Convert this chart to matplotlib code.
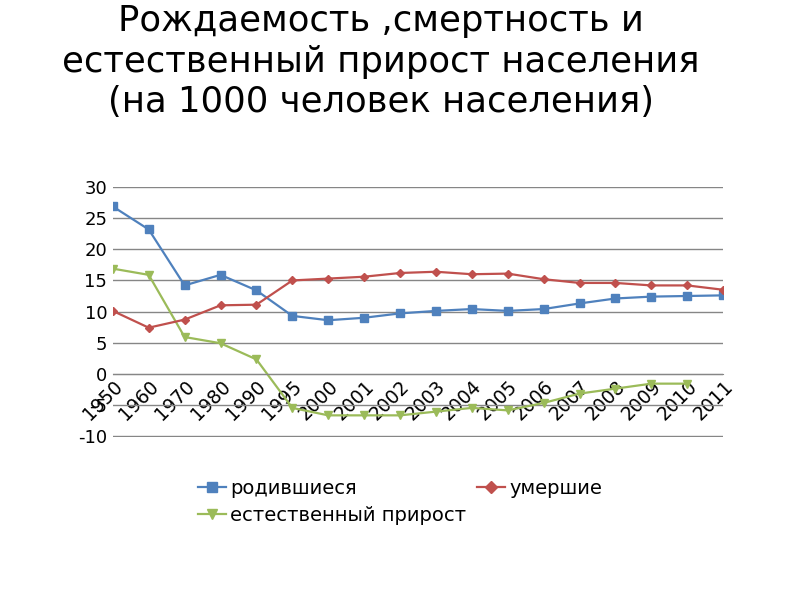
import matplotlib
matplotlib.use('Agg')
import matplotlib.pyplot as plt
from matplotlib.lines import Line2D

plt.rcParams['axes.unicode_minus'] = False

# --- data (per 1000 population) ---
years = ['1950', '1960', '1970', '1980', '1990', '1995', '2000', '2001', '2002',
         '2003', '2004', '2005', '2006', '2007', '2008', '2009', '2010', '2011']
births = [26.9, 23.2, 14.2, 15.9, 13.4, 9.3, 8.6, 9.0, 9.7,
          10.1, 10.4, 10.1, 10.4, 11.3, 12.1, 12.4, 12.5, 12.6]
deaths = [10.1, 7.4, 8.7, 11.0, 11.1, 15.0, 15.3, 15.6, 16.2,
          16.4, 16.0, 16.1, 15.2, 14.6, 14.6, 14.2, 14.2, 13.5]
natural = [16.9, 15.9, 5.9, 4.9, 2.3, -5.5, -6.7, -6.7, -6.7,
           -6.1, -5.5, -5.9, -4.7, -3.2, -2.4, -1.6, -1.6]

BLUE = '#4F81BD'
RED = '#C0504D'
GREEN = '#9BBB59'
GRID = '#868686'

fig = plt.figure(figsize=(8, 6), dpi=100)
fig.patch.set_facecolor('white')
ax = fig.add_axes([0.141, 0.272, 0.763, 0.416])

x = list(range(len(years)))
ax.plot(x, births, color=BLUE, lw=1.6, marker='s', ms=5.5, label='родившиеся')
ax.plot(x[:len(natural)], natural, color=GREEN, lw=1.6, marker='v', ms=5.5,
        label='естественный прирост')
ax.plot(x, deaths, color=RED, lw=1.6, marker='D', ms=4, label='умершие')

ax.set_xlim(0, len(years) - 1)
ax.set_ylim(-10.15, 30)
ax.set_yticks(range(-10, 31, 5))
ax.yaxis.grid(True, color=GRID, lw=1)
ax.set_axisbelow(True)
for s in ['left', 'right', 'top']:
    ax.spines[s].set_visible(False)
ax.spines['bottom'].set_position(('data', 0))
ax.spines['bottom'].set_color(GRID)
ax.tick_params(axis='y', length=0, labelsize=13, pad=4)
ax.tick_params(axis='x', length=0, labelsize=13.5, pad=2)
ax.set_xticks(x)
ax.set_xticklabels(years, rotation=45, ha='right', va='top', rotation_mode='anchor')

# title
fig.text(0.476, 0.993, 'Рождаемость ,смертность и\nестественный прирост населения\n(на 1000 человек населения)',
         ha='center', va='top', fontsize=25.5, linespacing=1.24)

handles = [
    Line2D([], [], color=BLUE, lw=1.6, marker='s', ms=7),
    Line2D([], [], color=GREEN, lw=1.6, marker='v', ms=7),
    Line2D([], [], color=RED, lw=1.6, marker='D', ms=6),
]
labels = ['родившиеся', 'естественный прирост', 'умершие']
fig.legend(handles, labels, ncol=2, loc='upper left', bbox_to_anchor=(0.238, 0.215),
           frameon=False, fontsize=14, handlelength=1.45, handletextpad=0.2,
           columnspacing=0.55, labelspacing=0.4, borderaxespad=0)

plt.savefig('out.png', dpi=100, facecolor='white')
